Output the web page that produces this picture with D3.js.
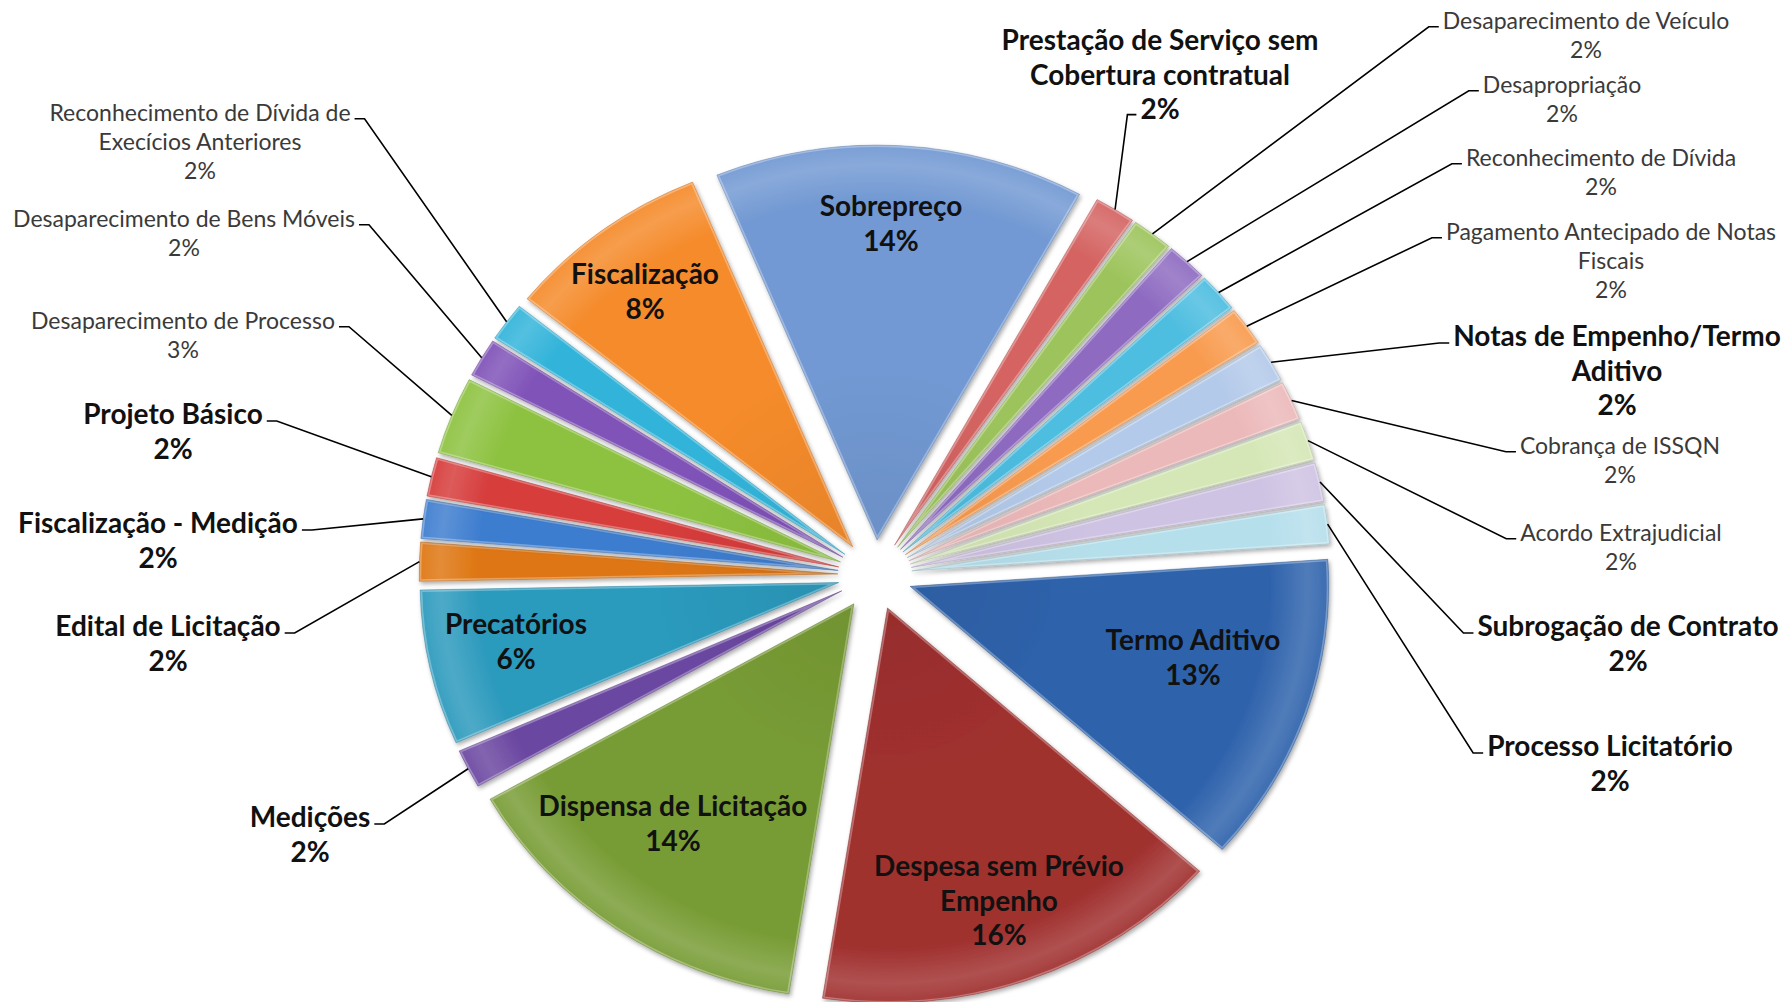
<!DOCTYPE html>
<html>
<head>
<meta charset="utf-8">
<script src="https://cdn.jsdelivr.net/npm/d3@7"></script>
<style>
  html, body { margin: 0; padding: 0; background: #ffffff; }
  svg { display: block; }
  text { font-family: Lato, "Open Sans", "DejaVu Sans", sans-serif; }
</style>
</head>
<body>
<svg id="chart" width="1785" height="1002"></svg>
<script>
// Occurrence categories, clockwise from "Sobrepreço"
const categories = [
  "Sobrepreço",
  "Prestação de Serviço sem Cobertura contratual",
  "Desaparecimento de Veículo",
  "Desapropriação",
  "Reconhecimento de Dívida",
  "Pagamento Antecipado de Notas Fiscais",
  "Notas de Empenho/Termo Aditivo",
  "Cobrança de ISSQN",
  "Acordo Extrajudicial",
  "Subrogação de Contrato",
  "Processo Licitatório",
  "Termo Aditivo",
  "Despesa sem Prévio Empenho",
  "Dispensa de Licitação",
  "Medições",
  "Precatórios",
  "Edital de Licitação",
  "Fiscalização - Medição",
  "Projeto Básico",
  "Desaparecimento de Processo",
  "Desaparecimento de Bens Móveis",
  "Reconhecimento de Dívida de Execícios Anteriores",
  "Fiscalização"
];

// Number of occurrences per category
const occurrences = [9, 1, 1, 1, 1, 1, 1, 1, 1, 1, 1, 8, 10, 9, 1, 4, 1, 1, 1, 2, 1, 1, 5];

// Slice fill colours
const sliceColors = [
  "#7299d3", "#d46462", "#9dc45c", "#8e6bc1", "#4dbde0", "#f89b4f",
  "#b4caea", "#ecb9ba", "#d5e7b6", "#cfc3e3", "#b6dfec",
  "#2f63ac", "#a0302f", "#789c35", "#6b47a1", "#2c9abd", "#de7612",
  "#3e7dcf", "#d63c3b", "#8dc240", "#7f52b8", "#33b4da", "#f58b2b"
];

// Label placement: inside the slice, or outside with a leader line (r/l/t side)
const labelLayout = [
  { mode: "in", x: 891,  y: 206 },
  { mode: "t",  x: 1160, y: 40,  bold: true, wrap: 4 },
  { mode: "r",  x: 1586, y: 21 },
  { mode: "r",  x: 1562, y: 85 },
  { mode: "r",  x: 1601, y: 158 },
  { mode: "r",  x: 1611, y: 232, wrap: 4 },
  { mode: "r",  x: 1617, y: 336, bold: true, wrap: 3 },
  { mode: "r",  x: 1620, y: 446 },
  { mode: "r",  x: 1621, y: 533 },
  { mode: "r",  x: 1628, y: 626, bold: true },
  { mode: "r",  x: 1610, y: 746, bold: true },
  { mode: "in", x: 1193, y: 640 },
  { mode: "in", x: 999,  y: 866, wrap: 3 },
  { mode: "in", x: 673,  y: 806 },
  { mode: "l",  x: 310,  y: 817, bold: true },
  { mode: "in", x: 516,  y: 624 },
  { mode: "l",  x: 168,  y: 626, bold: true },
  { mode: "l",  x: 158,  y: 523, bold: true },
  { mode: "l",  x: 173,  y: 414, bold: true },
  { mode: "l",  x: 183,  y: 321 },
  { mode: "l",  x: 184,  y: 219 },
  { mode: "l",  x: 200,  y: 113, wrap: 4 },
  { mode: "in", x: 645,  y: 274 }
];

// Geometry
const cx = 875, cy = 575;        // pie centre
const R = 395;                   // outer radius (vertical)
const stretch = 1.06;            // horizontal aspect of the pie
const explode = 35;              // distance each slice is pulled out
const startRad = -22.5 * Math.PI / 180;

const boldSize = 28, boldStep = 34.5;
const regSize = 23, regStep = 29;

const svg = d3.select("#chart");
const defs = svg.append("defs");

// soft drop shadow under the slices
const shadow = defs.append("filter").attr("id", "shadow")
  .attr("x", "-20%").attr("y", "-20%").attr("width", "140%").attr("height", "140%");
shadow.append("feDropShadow")
  .attr("dx", 1.5).attr("dy", 2.5).attr("stdDeviation", 2.2)
  .attr("flood-color", "#000").attr("flood-opacity", 0.33);

// radial shading: slightly darker toward the tip, lighter rim near the arc
const shade = defs.append("radialGradient").attr("id", "shade")
  .attr("gradientUnits", "userSpaceOnUse")
  .attr("cx", 0).attr("cy", 0).attr("r", R);
[[0, "#000", 0.06], [0.45, "#000", 0.0], [0.86, "#fff", 0.0],
 [0.95, "#fff", 0.16], [1, "#fff", 0.06]].forEach(([o, c, a]) =>
  shade.append("stop").attr("offset", o).attr("stop-color", c).attr("stop-opacity", a));

const total = d3.sum(occurrences);
const pct = d3.format(".0%");

const pie = d3.pie().sort(null).value(d => d)
  .startAngle(startRad).endAngle(startRad + 2 * Math.PI);
const arcs = pie(occurrences);
const arcGen = d3.arc().innerRadius(0).outerRadius(R);

const mid = d => (d.startAngle + d.endAngle) / 2;

arcs.forEach((d, i) => {
  defs.append("clipPath").attr("id", "clip" + i)
    .append("path").attr("d", arcGen(d));
});

const pieG = svg.append("g")
  .attr("transform", `translate(${cx},${cy}) scale(${stretch},1)`);

const slice = pieG.selectAll("g.slice").data(arcs).join("g")
  .attr("class", "slice")
  .attr("transform", d => `translate(${explode * Math.sin(mid(d))},${-explode * Math.cos(mid(d))})`)
  .attr("filter", "url(#shadow)");

slice.append("path").attr("d", arcGen).attr("fill", (d, i) => sliceColors[i]);
slice.append("path").attr("d", arcGen).attr("fill", "url(#shade)");
slice.append("path").attr("d", arcGen)
  .attr("fill", "none").attr("stroke", "#fff")
  .attr("stroke-opacity", 0.3).attr("stroke-width", 4)
  .attr("clip-path", (d, i) => `url(#clip${i})`);
slice.append("path").attr("d", arcGen)
  .attr("fill", "none")
  .attr("stroke", (d, i) => d3.color(sliceColors[i]).darker(0.7))
  .attr("stroke-opacity", 0.5).attr("stroke-width", 0.8);

// point on the outer arc of an exploded slice, in page coordinates
function rimPoint(d) {
  const a = mid(d), r = R + explode;
  return [cx + stretch * r * Math.sin(a), cy - r * Math.cos(a)];
}

function linesFor(i) {
  const L = labelLayout[i];
  const name = categories[i];
  let lines = [name];
  if (L.wrap) {
    const w = name.split(" ");
    lines = [w.slice(0, L.wrap).join(" "), w.slice(L.wrap).join(" ")];
  }
  lines.push(pct(occurrences[i] / total));
  return lines;
}

const labelG = svg.append("g");
const leaderG = svg.append("g");

arcs.forEach((d, i) => {
  const L = labelLayout[i];
  const bold = L.mode === "in" || L.bold;
  const size = bold ? boldSize : regSize;
  const step = bold ? boldStep : regStep;
  const lines = linesFor(i);

  const t = labelG.append("text")
    .attr("text-anchor", "middle")
    .attr("font-size", size)
    .attr("font-weight", bold ? 700 : 400)
    .attr("fill", bold ? "#111" : "#3a3a3a");
  const spans = lines.map((s, k) => t.append("tspan")
    .attr("x", L.x)
    .attr("y", L.y + k * step + size * 0.36)
    .text(s));

  if (L.mode === "in") return;

  const p0 = rimPoint(d);
  let tickY, tickEnd, elbow;
  if (L.mode === "r") {
    const w = spans[0].node().getComputedTextLength();
    tickY = L.y + size * 0.25;
    tickEnd = [L.x - w / 2 - 4, tickY];
    elbow = [tickEnd[0] - 10, tickY];
  } else if (L.mode === "l") {
    const w = spans[0].node().getComputedTextLength();
    tickY = L.y + size * 0.25;
    tickEnd = [L.x + w / 2 + 4, tickY];
    elbow = [tickEnd[0] + 10, tickY];
  } else {
    const last = spans.length - 1;
    const w = spans[last].node().getComputedTextLength();
    tickY = L.y + last * step + size * 0.2;
    tickEnd = [L.x - w / 2 - 4, tickY];
    elbow = [tickEnd[0] - 9, tickY];
  }
  leaderG.append("path")
    .attr("d", d3.line()([p0, elbow, tickEnd]))
    .attr("fill", "none")
    .attr("stroke", "#000")
    .attr("stroke-width", 1.6);
});
</script>
</body>
</html>
